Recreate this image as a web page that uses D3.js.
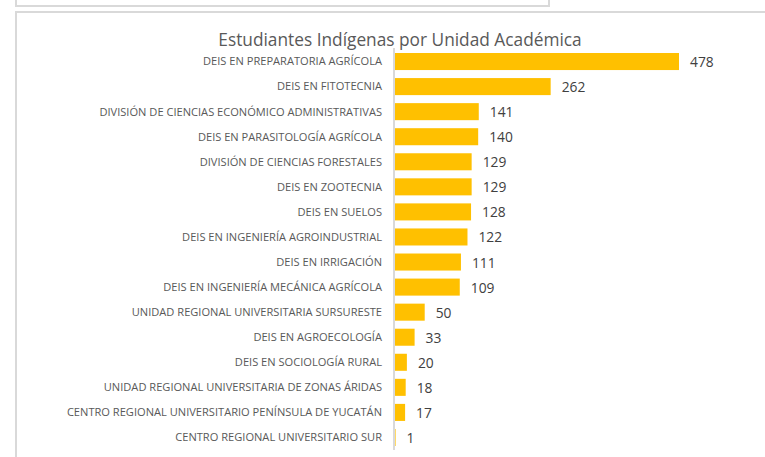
<!DOCTYPE html>
<html>
<head>
<meta charset="utf-8">
<script src="https://cdn.jsdelivr.net/npm/d3@7"></script>
<style>
  body { margin: 0; background: #fff; }
  svg { display: block; }
  .chartTitle { font-family: "Open Sans", sans-serif; font-size: 17.3px; fill: #595959; }
  .catLabel { font-family: "Open Sans", sans-serif; font-size: 11.1px; fill: #595959; }
  .valLabel { font-family: "Open Sans", sans-serif; font-size: 13.8px; fill: #404040; }
</style>
</head>
<body>
<div id="chart"></div>
<script>
const categories = [
  "DEIS EN PREPARATORIA AGRÍCOLA",
  "DEIS EN FITOTECNIA",
  "DIVISIÓN DE CIENCIAS ECONÓMICO ADMINISTRATIVAS",
  "DEIS EN PARASITOLOGÍA AGRÍCOLA",
  "DIVISIÓN DE CIENCIAS FORESTALES",
  "DEIS EN ZOOTECNIA",
  "DEIS EN SUELOS",
  "DEIS EN INGENIERÍA AGROINDUSTRIAL",
  "DEIS EN IRRIGACIÓN",
  "DEIS EN INGENIERÍA MECÁNICA AGRÍCOLA",
  "UNIDAD REGIONAL UNIVERSITARIA SURSURESTE",
  "DEIS EN AGROECOLOGÍA",
  "DEIS EN SOCIOLOGÍA RURAL",
  "UNIDAD REGIONAL UNIVERSITARIA DE ZONAS ÁRIDAS",
  "CENTRO REGIONAL UNIVERSITARIO PENÍNSULA DE YUCATÁN",
  "CENTRO REGIONAL UNIVERSITARIO SUR"
];
const students = [478, 262, 141, 140, 129, 129, 128, 122, 111, 109, 50, 33, 20, 18, 17, 1];
const title = "Estudiantes Indígenas por Unidad Académica";

const width = 765, height = 457;
const margin = {top: 49, right: 86, bottom: 7, left: 395};

const svg = d3.select("#chart").append("svg")
    .attr("width", width)
    .attr("height", height);

// window frames
svg.append("path")
    .attr("d", "M16,0 V6 H549 V0")
    .attr("fill", "none")
    .attr("stroke", "#d9d9d9")
    .attr("stroke-width", 2);
svg.append("path")
    .attr("d", `M${width},12 H16 V${height}`)
    .attr("fill", "none")
    .attr("stroke", "#d9d9d9")
    .attr("stroke-width", 2);

const x = d3.scaleLinear()
    .domain([0, 478])
    .range([margin.left, 679]);

const y = d3.scaleBand()
    .domain(categories)
    .range([margin.top, height - margin.bottom])
    .paddingInner(0.32)
    .paddingOuter(0.16);

const rows = categories.map((c, i) => ({name: c, value: students[i]}));

svg.selectAll("rect.bar")
  .data(rows)
    .enter()
  .append("rect")
    .attr("class", "bar")
    .attr("x", x(0))
    .attr("y", d => y(d.name))
    .attr("width", d => x(d.value) - x(0))
    .attr("height", y.bandwidth())
    .attr("fill", "#ffc000");

// axis line
svg.append("line")
    .attr("x1", x(0) - 1).attr("x2", x(0) - 1)
    .attr("y1", margin.top - 1).attr("y2", height - margin.bottom)
    .attr("stroke", "#d9d9d9")
    .attr("stroke-width", 2);

svg.selectAll("text.catLabel")
  .data(rows)
    .enter()
  .append("text")
    .attr("class", "catLabel")
    .attr("x", 382)
    .attr("y", d => y(d.name) + y.bandwidth() / 2)
    .attr("dy", "0.35em")
    .attr("text-anchor", "end")
    .text(d => d.name);

svg.selectAll("text.valLabel")
  .data(rows)
    .enter()
  .append("text")
    .attr("class", "valLabel")
    .attr("x", d => x(d.value) + 11)
    .attr("y", d => y(d.name) + y.bandwidth() / 2)
    .attr("dy", "0.4em")
    .text(d => d.value);

svg.append("text")
    .attr("class", "chartTitle")
    .attr("x", 400)
    .attr("y", 46)
    .attr("text-anchor", "middle")
    .text(title);
</script>
</body>
</html>
